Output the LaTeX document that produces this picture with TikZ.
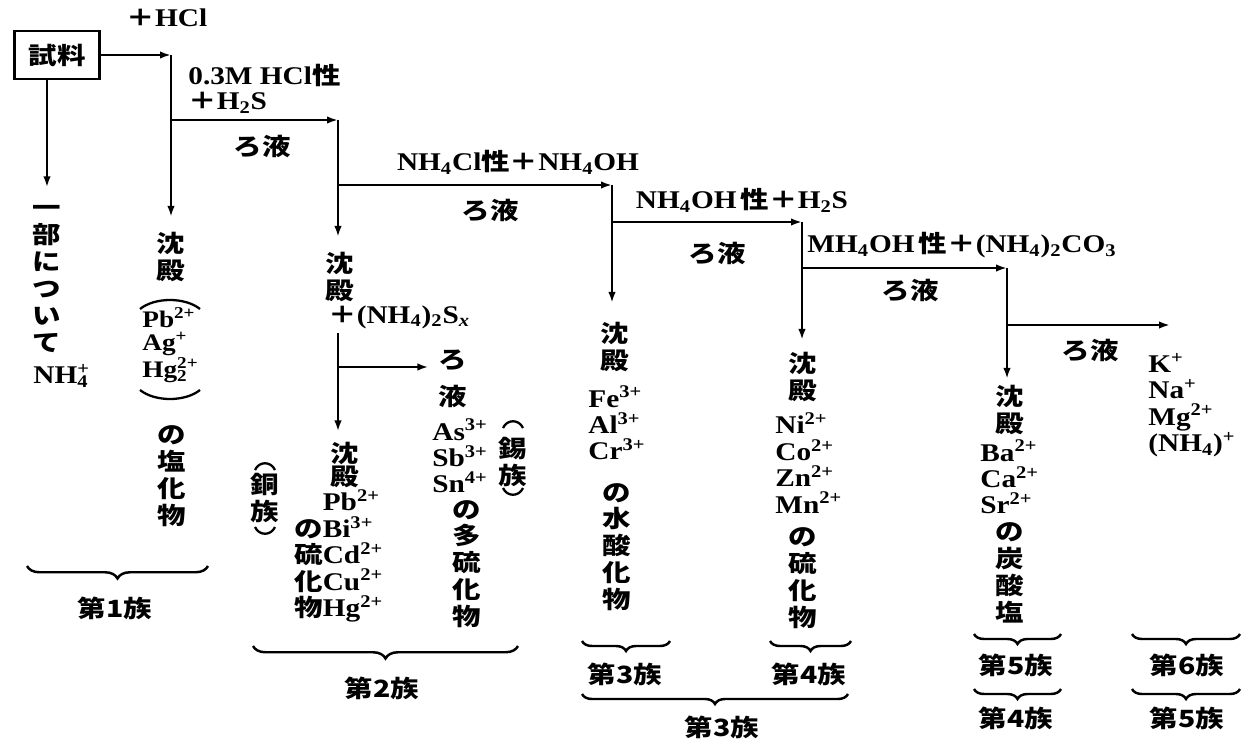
\documentclass[tikz,border=0pt]{standalone}
\usepackage{fontspec}
\setmainfont{Liberation Serif}[FakeStretch=1.15]
\newfontfamily\jp{Noto Sans CJK JP}[FakeStretch=1.2]
\usetikzlibrary{arrows.meta,decorations.pathreplacing}
\newcommand\J[1]{{\jp\fontsize{13.5}{15.3}\selectfont #1}}
\newcommand\chup[1]{\textsuperscript{#1}}
\newcommand\chdn[1]{\textsubscript{#1}}
\newcommand\chud[2]{\makebox[0pt][l]{\textsubscript{#1}}\textsuperscript{#2}}

\begin{document}
\begin{tikzpicture}[x=0.02cm, y=-0.02cm,
    >={Latex[length=2.2mm, width=1.5mm]},
    every node/.style={inner sep=0pt, font=\bfseries\fontsize{14.5}{15}\selectfont},
    conn/.style={->, line width=1.5pt},
    vtext/.style={align=center, font=\jp\bfseries\fontsize{13.5}{15.3}\selectfont},
    jtext/.style={font=\jp\bfseries\fontsize{13.5}{15.3}\selectfont},
    ions/.style={align=left, anchor=west, font=\bfseries\fontsize{14.5}{15}\selectfont},
    paren/.style={line width=1.3pt},
    grp/.style={decorate, decoration={brace, mirror, amplitude=0.25cm}, line width=1.4pt},
    sgrp/.style={grp, decoration={amplitude=0.2cm}}
  ]
\useasboundingbox (0,0) rectangle (1244,740);

% =========================================================================
% 試料 と 分離の経路
% =========================================================================
\node[draw, line width=1.6pt, minimum width=1.7cm, minimum height=0.96cm, jtext] (sample) at (57,55) {試料};
\node (hcl) at (167,18) {\J{＋}HCl};
\node[anchor=west] (acid) at (188,75) {0.3M\ HCl\J{性}};
\node[anchor=west] (hhs) at (188,103) {\J{＋}H\chdn{2}S};
\node[jtext] (f2) at (262,146) {ろ液};

\node (r3) at (518,162) {NH\chdn{4}Cl\J{性＋}NH\chdn{4}OH};
\node[jtext] (f3) at (490,210) {ろ液};
\node (r4) at (742,200) {NH\chdn{4}OH\,\J{性＋}H\chdn{2}S};
\node[jtext] (f4) at (717,253) {ろ液};
\node (r5) at (962,245) {MH\chdn{4}OH\,\J{性＋}(NH\chdn{4})\chdn{2}CO\chdn{3}};
\node[jtext] (f5) at (910,290) {ろ液};
\node[jtext] (f6) at (1090,350) {ろ液};

\coordinate (c1) at (171,55);
\coordinate (b1) at (171,120);
\coordinate (c2) at (338,120);
\coordinate (b2) at (338,185);
\coordinate (c3) at (612,185);
\coordinate (b3) at (612,222);
\coordinate (c4) at (802,222);
\coordinate (b4) at (802,268);
\coordinate (c5) at (1007,268);
\coordinate (b5) at (1007,325);
\coordinate (e6) at (1170,325);

% =========================================================================
% 第1族
% =========================================================================
\node[vtext] (part) at (47,279) {一\\部\\に\\つ\\い\\て};
\node[anchor=west] (nh4) at (33,376) {NH\chud{4}{+}};

\node[vtext] (ppt1) at (171,257) {沈\\殿};
\node[ions, font=\bfseries\fontsize{13.5}{12.9}\selectfont] (ions1) at (142,345) {Pb\chup{2+}\\Ag\chup{+}\\Hg\chud{2}{2+}};
\node[vtext] (chl1) at (172,476) {の\\塩\\化\\物};
\draw[paren] (140,309) .. controls (155,297) and (185,297) .. (200,309);
\draw[paren] (140,390) .. controls (155,402) and (185,402) .. (200,390);

% =========================================================================
% 第2族
% =========================================================================
\node[vtext] (ppt2) at (340,277) {沈\\殿};
\node[anchor=west] (poly) at (328,317) {\J{＋}(NH\chdn{4})\chdn{2}S\chdn{\textit{x}}};
\coordinate (s2) at (338,333);
\coordinate (b6) at (338,367);

\node[vtext, font=\jp\bfseries\fontsize{13.5}{21}\selectfont] (filt2) at (453,379) {ろ\\液};
\node[ions] (ions2a) at (432,456) {As\chup{3+}\\Sb\chup{3+}\\Sn\chup{4+}};
\node[vtext] (sulf2a) at (467,564) {の\\多\\硫\\化\\物};
\node[vtext] (tin) at (513,462) {錫\\族};
\draw[paren] (503,428) .. controls (507,419) and (519,419) .. (523,428);
\draw[paren] (503,488) .. controls (507,497) and (519,497) .. (523,488);

\node[vtext, font=\jp\bfseries\fontsize{13.5}{13.6}\selectfont] (ppt2b) at (345,465) {沈\\殿};
\node[ions] (ions2b) at (294,556) {\phantom{\J{の}}Pb\chup{2+}\\\J{の}Bi\chup{3+}\\\J{硫}Cd\chup{2+}\\\J{化}Cu\chup{2+}\\\J{物}Hg\chup{2+}};
\node[vtext] (cu) at (265,498) {銅\\族};
\draw[paren] (255,470) .. controls (259,461) and (271,461) .. (275,470);
\draw[paren] (255,527) .. controls (259,536) and (271,536) .. (275,527);

% =========================================================================
% 第3族 ~ 第6族
% =========================================================================
\node[vtext] (ppt3) at (615,347) {沈\\殿};
\node[ions] (ions3) at (588,423) {Fe\chup{3+}\\Al\chup{3+}\\Cr\chup{3+}};
\node[vtext] (hyd3) at (617,547) {の\\水\\酸\\化\\物};

\node[vtext] (ppt4) at (803,377) {沈\\殿};
\node[ions] (ions4) at (775,463) {Ni\chup{2+}\\Co\chup{2+}\\Zn\chup{2+}\\Mn\chup{2+}};
\node[vtext] (sulf4) at (803,578) {の\\硫\\化\\物};

\node[vtext] (ppt5) at (1010,410) {沈\\殿};
\node[ions] (ions5) at (980,477) {Ba\chup{2+}\\Ca\chup{2+}\\Sr\chup{2+}};
\node[vtext] (carb5) at (1010,573) {の\\炭\\酸\\塩};

\node[ions] (ions6) at (1148,405) {K\chup{+}\\Na\chup{+}\\Mg\chup{2+}\\(NH\chdn{4})\chup{+}};

% =========================================================================
% 矢印
% =========================================================================
\draw[conn] (sample.east) -- (c1);
\draw[conn, shorten >=0.3cm] (c1) -- (c1 |- ppt1.north);
\draw[conn, shorten >=0.36cm] (sample.south -| part.north) -- (part.north);
\draw[conn] (b1) -- (c2);
\draw[conn, shorten >=0.3cm] (c2) -- (c2 |- ppt2.north);
\draw[conn] (b2) -- (c3);
\draw[conn, shorten >=0.38cm] (c3) -- (c3 |- ppt3.north);
\draw[conn] (b3) -- (c4);
\draw[conn, shorten >=0.24cm] (c4) -- (c4 |- ppt4.north);
\draw[conn] (b4) -- (c5);
\draw[conn, shorten >=0.12cm] (c5) -- (c5 |- ppt5.north);
\draw[conn] (b5) -- (e6);
\draw[conn, shorten >=0.2cm] (s2) -- (s2 |- ppt2b.north);
\draw[conn, shorten >=0.2cm] (b6) -- (b6 -| filt2.west);

% =========================================================================
% 族の括弧
% =========================================================================
\draw[grp] (27,566) -- (208,566);
\node[jtext] (g1) at (115,608) {第1族};
\draw[grp] (253,646) -- (518,646);
\node[jtext] (g2) at (382,688) {第2族};
\draw[sgrp] (582,641) -- (670,641);
\node[jtext] (g3) at (625,674) {第3族};
\draw[sgrp] (770,641) -- (851,641);
\node[jtext] (g4) at (809,674) {第4族};
\draw[sgrp] (582,694) -- (848,694);
\node[jtext] (g3b) at (722,727) {第3族};
\draw[sgrp] (974,634) -- (1061,634);
\node[jtext] (g5) at (1016,665) {第5族};
\draw[sgrp] (974,689) -- (1061,689);
\node[jtext] (g4b) at (1016,718) {第4族};
\draw[sgrp] (1132,634) -- (1240,634);
\node[jtext] (g6) at (1187,665) {第6族};
\draw[sgrp] (1132,689) -- (1240,689);
\node[jtext] (g5b) at (1187,718) {第5族};

\end{tikzpicture}
\end{document}
